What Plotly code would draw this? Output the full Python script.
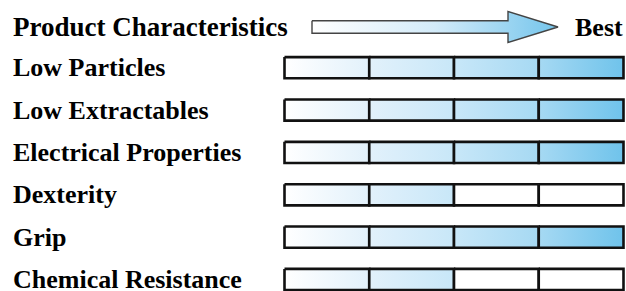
import plotly.graph_objects as go

# ---- data ----
header_label = "Product Characteristics"
best_label = "Best"
categories = ["Low Particles", "Low Extractables", "Electrical Properties",
              "Dexterity", "Grip", "Chemical Resistance"]
scores = [4, 4, 4, 2, 4, 2]
max_score = 4

# ---- style ----
FONT = "Liberation Serif"
FS = 26
BLUE_SCALE = [[0.0, "#ffffff"], [0.25, "#e2f1fb"], [0.5, "#c8e7f8"],
              [0.75, "#a6d9f3"], [1.0, "#6fc3eb"]]
BAR_H = 0.5
W, H = 626, 291
row0_px, row_step_px = 67.7, 42.36
x0_px, x1_px = 284.5, 623.5
unit = (x1_px - x0_px) / max_score
LABEL_X = 11 / W

fig = go.Figure()

for i, (cat, sc) in enumerate(zip(categories, scores)):
    for s in range(max_score):
        xs = [s, s + 1, s + 1, s, s]
        ys = [i - BAR_H / 2, i - BAR_H / 2, i + BAR_H / 2, i + BAR_H / 2, i - BAR_H / 2]
        kw = dict(x=xs, y=ys, mode="lines", fill="toself",
                  line=dict(color="#111111", width=2.6),
                  hoverinfo="skip", showlegend=False)
        if s < sc:
            kw["fillgradient"] = dict(type="horizontal", colorscale=BLUE_SCALE,
                                      start=0, stop=max_score)
        else:
            kw["fillcolor"] = "#ffffff"
        fig.add_trace(go.Scatter(**kw))
    fig.add_annotation(x=LABEL_X, xref="paper", y=i, yref="y", text=f"<b>{cat}</b>",
                       showarrow=False, xanchor="left", yanchor="middle",
                       font=dict(family=FONT, size=FS, color="#000000"))

# header arrow (row -1)
ay = -1 + (27 - (row0_px - row_step_px)) / row_step_px
a_start = (312 - x0_px) / unit
a_head = (508 - x0_px) / unit
a_tip = (558 - x0_px) / unit
sh = 6.25 / row_step_px
hh = 15.5 / row_step_px
fig.add_trace(go.Scatter(
    x=[a_start, a_head, a_head, a_tip, a_head, a_head, a_start, a_start],
    y=[ay - sh, ay - sh, ay - hh, ay, ay + hh, ay + sh, ay + sh, ay - sh],
    mode="lines", fill="toself", line=dict(color="#444444", width=1.4),
    fillgradient=dict(type="horizontal", colorscale=[[0, "#ffffff"], [0.5, "#d3ebf9"], [1, "#74c5ec"]],
                      start=a_start, stop=a_tip),
    hoverinfo="skip", showlegend=False))

fig.add_annotation(x=LABEL_X, xref="paper", y=ay, yref="y", text=f"<b>{header_label}</b>",
                   showarrow=False, xanchor="left", yanchor="middle",
                   font=dict(family=FONT, size=FS + 1, color="#000000"))
fig.add_annotation(x=625 / W, xref="paper", y=ay, yref="y", text=f"<b>{best_label}</b>",
                   showarrow=False, xanchor="right", yanchor="middle",
                   font=dict(family=FONT, size=FS, color="#000000"))

fig.update_layout(
    width=W, height=H, margin=dict(l=0, r=0, t=0, b=0),
    paper_bgcolor="#ffffff", plot_bgcolor="#ffffff",
    xaxis=dict(range=[-x0_px / unit, (W - x0_px) / unit], visible=False, fixedrange=True),
    yaxis=dict(range=[(H - row0_px) / row_step_px, -row0_px / row_step_px],
               visible=False, fixedrange=True),
)

fig.write_html("out.html", config={"displayModeBar": False},
               post_script="document.body.style.margin='0px';document.body.style.overflow='hidden';")
